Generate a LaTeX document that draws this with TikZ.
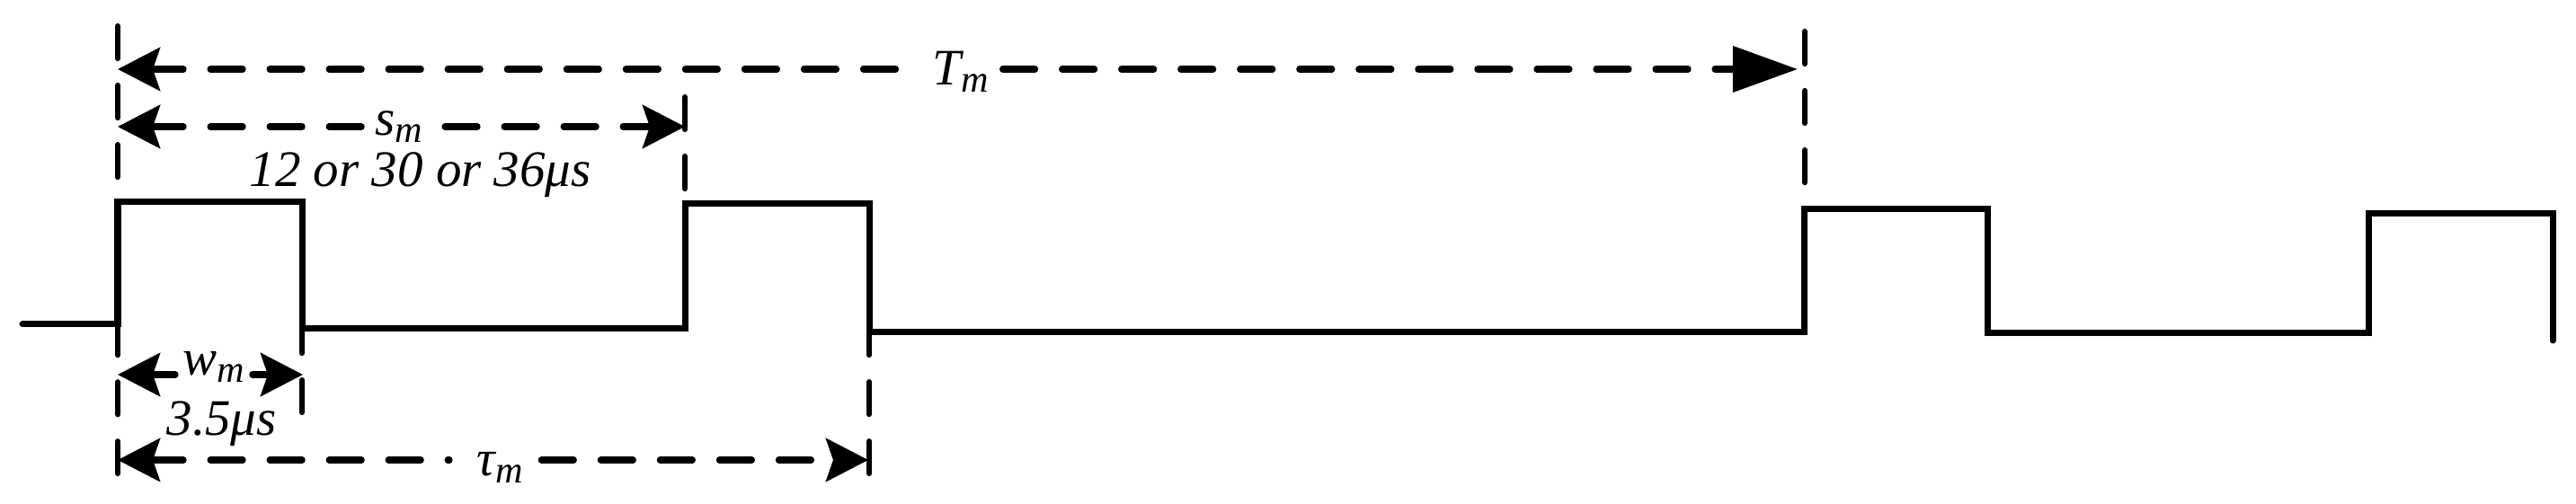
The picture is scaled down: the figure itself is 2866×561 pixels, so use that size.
\documentclass[tikz,border=0pt]{standalone}
\usepackage{fontspec}
\setmainfont{Liberation Serif}
\usetikzlibrary{arrows.meta,calc}
\newcommand{\subm}[1]{\raisebox{-2pt}{\fontsize{12}{12}\selectfont #1}}
\begin{document}
\begin{tikzpicture}[x=0.01cm,y=-0.01cm,
  sig/.style={line width=0.07cm, line cap=round, line join=miter},
  guide/.style={line width=0.062cm, dash pattern=on 0.36cm off 0.30cm, line cap=round},
  dim/.style={line width=0.072cm, dash pattern=on 0.36cm off 0.30cm, line cap=round},
  >={Stealth[length=0.47cm,width=0.48cm,inset=0.08cm]},
  lbl/.style={inner sep=0pt, anchor=base west, font=\fontsize{16.2}{19}\selectfont\itshape}]
\useasboundingbox (0,0) rectangle (2866,561);

% signal
\draw[sig] (25,361) -- (131,361) -- (131,225) -- (336,225) -- (336,366)
  -- (762,366) -- (762,227) -- (967,227) -- (967,370) -- (2007,370)
  -- (2007,233) -- (2211,233) -- (2211,371) -- (2635,371) -- (2635,238)
  -- (2840,238) -- (2840,379);

% guide lines
\draw[guide] (131,29) -- (131,527);
\draw[guide] (336,225) -- (336,459);
\draw[guide] (762,108) -- (762,211);
\draw[guide] (967,227) -- (967,527);
\draw[guide] (2008,35) -- (2008,204);

% labels
\node[lbl] (Tm) at (1037,95) {T\subm{m}};
\node[lbl] (sm) at (417,151) {s\subm{m}};
\node[lbl] (val1) at (277,208) {12 or 30 or 36μs};
\node[lbl] (wm) at (203,418) {w\subm{m}};
\node[lbl] (val2) at (185,485) {3.5μs};
\node[lbl] (taum) at (530,530) {τ\subm{m}};

% end points
\coordinate (TL) at (131,77);  \coordinate (TR) at (2000,77);
\coordinate (SL) at (131,141); \coordinate (SR) at (762,141);
\coordinate (WL) at (131,417); \coordinate (WR) at (337,417);
\coordinate (AL) at (131,512); \coordinate (AR) at (966,512);

% dimension lines
\draw[dim,<-] (TL) -- ($(TL -| Tm.west)+(-37,0)$);
\draw[dim,-{Triangle[length=0.72cm,width=0.5cm]}] ($(TR -| Tm.east)+(15,0)$) -- (TR);
\draw[dim,<-] (SL) -- ($(SL -| sm.west)+(-12,0)$);
\draw[dim,->] ($(SR -| sm.east)+(24,0)$) -- (SR);
\draw[dim,<-] (WL) -- ($(WL -| wm.west)+(-8,0)$);
\draw[dim,->] ($(WR -| wm.east)+(8,0)$) -- (WR);
\draw[dim,<-] (AL) -- ($(AL -| taum.west)+(-30,0)$);
\draw[dim,->] ($(AR -| taum.east)+(20,0)$) -- (AR);
\end{tikzpicture}
\end{document}
